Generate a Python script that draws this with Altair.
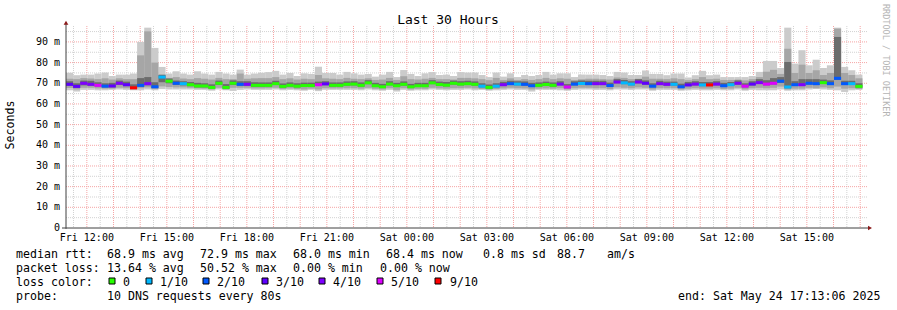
import altair as alt
import pandas as pd

# ---------------- data ----------------
t_start = 11 + 13 / 60 + 6 / 3600      # Fri 11:13:06, hours since Fri 00:00
span_h = 30.0
step_h = 16 / 60                        # 12 x 80 s consolidation

median_ms = [
    69.5, 68.5, 70.0, 69.5, 69.0, 68.6, 68.7, 70.0, 69.3, 67.8, 69.0, 69.8, 68.3, 73.0,
    71.0, 70.0, 69.8, 69.3, 68.7, 68.7, 68.0, 70.0, 68.0, 70.0, 69.5, 69.5, 69.0, 69.0,
    69.0, 69.8, 68.5, 69.0, 68.6, 68.9, 68.9, 69.3, 69.7, 69.0, 69.0, 69.5, 69.6, 69.0,
    70.2, 68.8, 68.3, 69.6, 68.8, 69.5, 68.3, 68.8, 68.8, 70.2, 69.4, 69.1, 70.0, 69.6,
    69.8, 69.5, 68.6, 68.0, 68.6, 69.3, 69.8, 69.6, 69.5, 68.8, 69.0, 69.4, 69.0, 69.6,
    68.2, 69.6, 69.9, 69.8, 69.8, 69.8, 68.9, 70.6, 70.2, 69.6, 70.6, 70.0, 68.6, 69.8,
    69.5, 69.5, 68.3, 69.2, 69.6, 69.2, 69.2, 69.6, 68.8, 69.3, 70.0, 68.6, 69.6, 70.3,
    69.6, 70.0, 71.0, 68.2, 69.3, 69.3, 70.0, 69.8, 70.3, 69.8, 72.4, 69.8, 69.8, 68.5,
]
loss_cnt = [
    3, 3, 4, 4, 5, 2, 3, 4, 3, 9, 2, 4, 2, 1, 0, 2, 1, 0, 0, 0, 0, 0, 0, 0, 2, 4, 0, 0,
    0, 0, 0, 0, 0, 0, 0, 5, 3, 0, 0, 0, 0, 0, 0, 0, 0, 0, 0, 0, 0, 0, 0, 0, 0, 0, 0, 0,
    0, 0, 1, 0, 1, 4, 2, 1, 2, 2, 0, 0, 0, 4, 5, 2, 1, 2, 4, 4, 2, 4, 1, 1, 4, 3, 2, 4,
    4, 1, 2, 3, 4, 1, 9, 4, 2, 1, 4, 5, 3, 4, 5, 5, 2, 1, 2, 4, 2, 2, 0, 2, 2, 2, 1, 0,
]
ping_max = [
    75.1, 73.9, 74.2, 74.2, 74.7, 75.2, 73.5, 74.2, 74.2, 74.7, 90.0, 96.9, 87.1, 77.9,
    74.7, 75.8, 74.7, 74.2, 75.8, 74.7, 74.2, 75.5, 74.7, 74.2, 76.6, 74.2, 74.7, 75.1,
    75.4, 76.0, 74.2, 75.0, 73.5, 74.8, 74.5, 78.0, 75.0, 75.0, 74.2, 75.5, 74.8, 74.2,
    74.5, 73.2, 74.2, 75.5, 73.0, 76.4, 74.5, 73.5, 74.8, 75.4, 74.0, 74.2, 73.5, 75.4,
    75.2, 75.2, 74.0, 73.0, 75.2, 73.2, 74.8, 73.0, 74.0, 73.5, 74.0, 75.5, 74.2, 74.8,
    74.8, 73.0, 74.2, 74.2, 74.2, 74.0, 73.5, 75.5, 75.2, 74.0, 74.0, 76.2, 74.5, 74.5,
    73.9, 74.7, 74.7, 72.8, 73.9, 76.0, 73.9, 74.2, 73.0, 73.0, 73.0, 73.0, 73.5, 75.5,
    80.8, 80.8, 77.4, 96.9, 79.5, 86.0, 78.7, 81.4, 77.4, 78.7, 96.9, 77.9, 76.3, 74.2,
]
band_hi = [
    72.2, 72.0, 72.5, 72.3, 72.0, 72.4, 71.8, 72.4, 72.0, 72.0, 83.5, 95.1, 80.0, 74.4,
    72.6, 73.0, 72.3, 72.0, 72.5, 72.2, 71.8, 72.6, 72.0, 72.0, 74.7, 72.2, 72.4, 72.5,
    72.5, 73.0, 72.0, 72.4, 71.8, 72.2, 72.0, 74.0, 72.4, 72.2, 72.0, 72.6, 72.2, 72.0,
    72.4, 71.6, 71.8, 72.6, 71.6, 73.4, 72.0, 71.8, 72.2, 72.6, 72.0, 72.0, 71.8, 72.6,
    72.6, 72.4, 72.0, 71.5, 72.6, 71.6, 72.4, 71.6, 72.0, 71.6, 72.0, 72.6, 72.0, 72.4,
    72.2, 71.6, 72.0, 72.2, 72.2, 72.0, 71.8, 72.8, 72.6, 72.0, 72.2, 73.2, 72.2, 72.2,
    72.0, 72.4, 72.0, 71.5, 72.0, 73.0, 72.0, 72.2, 71.6, 71.6, 71.8, 71.4, 72.0, 73.0,
    75.6, 76.5, 74.5, 86.7, 75.0, 79.0, 75.0, 76.3, 74.0, 75.0, 96.4, 75.0, 74.0, 72.4,
]
core_hi = [
    71.0, 70.0, 71.3, 71.2, 70.5, 70.0, 70.2, 71.3, 70.8, 69.5, 72.5, 73.0, 70.5, 74.0,
    72.3, 71.3, 71.0, 70.6, 70.2, 70.0, 69.5, 71.3, 69.6, 71.4, 71.0, 71.0, 70.5, 70.4,
    70.4, 71.2, 69.9, 70.4, 70.0, 70.3, 70.3, 70.8, 71.0, 70.4, 70.4, 70.9, 71.0, 70.4,
    71.5, 70.2, 69.7, 71.0, 70.2, 70.9, 69.7, 70.2, 70.2, 71.5, 70.8, 70.6, 71.3, 71.0,
    71.2, 70.9, 70.0, 69.4, 70.0, 70.7, 71.2, 71.0, 70.9, 70.2, 70.4, 70.8, 70.4, 71.0,
    69.6, 71.0, 71.3, 71.2, 71.2, 71.2, 70.3, 72.0, 71.6, 71.0, 72.0, 71.4, 70.0, 71.2,
    70.8, 70.8, 69.8, 70.6, 71.0, 70.6, 70.6, 71.0, 70.2, 70.6, 71.4, 70.0, 71.0, 72.0,
    71.5, 72.5, 73.0, 80.3, 71.0, 72.0, 72.0, 72.0, 71.8, 71.4, 92.4, 71.2, 71.2, 70.0,
]
core_lo = [
    68.8, 67.8, 69.0, 68.8, 68.4, 68.0, 68.0, 69.2, 68.6, 67.4, 68.3, 69.0, 67.7, 70.5,
    70.0, 69.2, 69.0, 68.6, 68.0, 68.0, 67.5, 69.2, 67.4, 69.2, 68.8, 68.8, 68.3, 68.3,
    68.4, 69.2, 67.9, 68.4, 68.0, 68.3, 68.3, 68.7, 69.1, 68.4, 68.4, 68.9, 69.0, 68.4,
    69.6, 68.2, 67.7, 69.0, 68.2, 68.9, 67.7, 68.2, 68.2, 69.6, 68.8, 68.5, 69.4, 69.0,
    69.2, 68.9, 68.0, 67.4, 68.0, 68.7, 69.2, 69.0, 68.9, 68.2, 68.4, 68.8, 68.4, 69.0,
    67.6, 69.0, 69.3, 69.2, 69.2, 69.2, 68.3, 70.0, 69.6, 69.0, 70.0, 69.4, 68.0, 69.2,
    68.9, 68.9, 67.7, 68.6, 69.0, 68.6, 68.6, 69.0, 68.2, 68.7, 69.4, 68.0, 69.0, 69.7,
    69.0, 69.4, 70.2, 67.6, 68.7, 68.7, 69.4, 69.2, 69.7, 69.2, 71.6, 69.2, 69.2, 67.9,
]
band_lo = [
    67.7, 67.0, 67.8, 67.8, 67.5, 67.4, 67.4, 67.8, 67.6, 67.0, 67.6, 68.0, 67.2, 68.5,
    68.2, 68.0, 68.0, 67.8, 67.5, 67.4, 67.0, 67.8, 67.0, 67.8, 67.8, 67.8, 67.5, 67.5,
    67.6, 67.8, 67.2, 67.5, 67.2, 67.0, 67.4, 67.0, 67.6, 67.5, 67.5, 67.6, 67.6, 67.4,
    67.8, 67.3, 67.0, 67.6, 66.8, 67.6, 67.0, 67.3, 67.3, 67.8, 67.5, 67.4, 67.6, 67.6,
    67.8, 67.5, 67.2, 66.9, 67.2, 67.5, 67.8, 67.6, 67.5, 67.0, 67.4, 67.5, 67.4, 67.6,
    67.0, 67.6, 67.8, 67.8, 67.6, 67.6, 67.2, 68.0, 67.8, 67.6, 68.0, 67.8, 67.0, 67.6,
    67.6, 67.6, 67.0, 67.4, 67.6, 67.4, 67.4, 67.6, 67.2, 67.4, 67.8, 67.0, 67.6, 67.8,
    67.6, 67.8, 68.4, 67.0, 67.4, 67.4, 67.8, 67.6, 68.0, 67.6, 68.4, 67.4, 67.6, 67.2,
]
ping_min = [
    66.6, 66.0, 66.8, 66.8, 66.6, 66.6, 66.8, 67.0, 66.8, 66.6, 66.6, 67.0, 66.6, 67.2,
    67.0, 67.0, 67.0, 67.0, 66.8, 66.8, 66.4, 67.0, 66.6, 66.3, 66.8, 67.0, 66.8, 66.8,
    66.8, 67.0, 66.6, 66.8, 66.6, 66.4, 66.8, 66.2, 66.8, 66.8, 66.8, 66.8, 66.8, 66.6,
    67.0, 66.6, 66.4, 66.8, 66.0, 66.8, 66.4, 66.6, 66.6, 67.0, 66.8, 66.6, 66.8, 66.8,
    67.0, 66.6, 66.8, 66.4, 66.6, 66.8, 67.0, 66.8, 66.8, 66.0, 66.8, 66.8, 66.8, 66.6,
    66.4, 66.8, 67.0, 67.0, 66.8, 66.8, 66.6, 67.0, 67.0, 66.8, 67.0, 67.0, 66.4, 66.8,
    66.8, 66.8, 66.4, 66.6, 66.8, 66.6, 66.6, 66.8, 66.6, 66.6, 67.0, 66.4, 66.8, 66.6,
    66.6, 66.6, 67.0, 66.4, 66.6, 66.6, 67.0, 67.2, 67.0, 66.8, 66.6, 65.8, 66.6, 66.8,
]

loss_domain = [0, 1, 2, 3, 4, 5, 9]
loss_labels = ["0", "1/10", "2/10", "3/10", "4/10", "5/10", "9/10"]
loss_colors = ["#26ff00", "#00b8ff", "#0059ff", "#5e00ff", "#7e00ff", "#dd00ff", "#ff0000"]

y_ticks = [0, 10, 20, 30, 40, 50, 60, 70, 80, 90]
y_tick_labels = ["0\u00a0\u00a0", "10 m", "20 m", "30 m", "40 m", "50 m", "60 m", "70 m",
                 "80 m", "90 m"]
y_minor = [5, 15, 25, 35, 45, 55, 65, 75, 85, 95]
x_tick_hours = [12, 15, 18, 21, 24, 27, 30, 33, 36, 39]
x_tick_labels = ["Fri 12:00", "Fri 15:00", "Fri 18:00", "Fri 21:00", "Sat 00:00",
                 "Sat 03:00", "Sat 06:00", "Sat 09:00", "Sat 12:00", "Sat 15:00"]
x_major_grid = list(range(12, 42))
x_minor_grid = [h + 0.5 for h in range(11, 41)]

title_text = "Last 30 Hours"
y_title = "Seconds"
watermark = "RRDTOOL / TOBI OETIKER"
rtt_items = ["median rtt:", "68.9 ms avg", "72.9 ms max", "68.0 ms min", "68.4 ms now",
             "0.8 ms sd", "88.7", "am/s"]
loss_items = ["packet loss:", "13.64 % avg", "50.52 % max", "0.00 % min", "0.00 % now"]
probe_items = ["probe:", "10 DNS requests every 80s"]
end_text = "end: Sat May 24 17:13:06 2025"

# ---------------- layout (pixels) ----------------
PL, PT, W, H = 66, 26, 800, 202
FULL_W, FULL_H = 897, 310
YMAX = 97.7
MONO = "DejaVu Sans Mono"
rtt_x = [16, 107, 200, 293, 386, 483, 557, 607]
loss_x = [16, 107, 200, 293, 380]
probe_x = [16, 107]
box_x = [112, 149, 206, 265, 322, 380, 438]
box_lbl_x = [123, 160, 217, 276, 333, 391, 450]
line_y = [258, 272, 286, 300]

n = len(median_ms)
df = pd.DataFrame({
    "t0": [t_start + i * step_h for i in range(n)],
    "t1": [t_start + (i + 1) * step_h for i in range(n)],
    "pmax": ping_max, "bhi": band_hi, "chi": core_hi, "clo": core_lo,
    "blo": band_lo, "pmin": ping_min, "med": median_ms, "loss": loss_cnt,
})

xscale = alt.Scale(domain=[t_start, t_start + span_h], nice=False, zero=False)
yscale = alt.Scale(domain=[0, YMAX], nice=False, zero=False)


def X(f):
    return alt.X(f, type="quantitative", scale=xscale, axis=None)


def Y(f):
    return alt.Y(f, type="quantitative", scale=yscale, axis=None)


one = pd.DataFrame({"k": [0]})
layers = []

# grid
g_minor_y = alt.Chart(pd.DataFrame({"gy": y_minor})).mark_rule(
    color="#d2d2d2", strokeDash=[1, 1], strokeWidth=1).encode(
    y=Y("gy"), x=alt.value(0), x2=alt.value(W + 2))
g_minor_x = alt.Chart(pd.DataFrame({"gx": x_minor_grid})).mark_rule(
    color="#d2d2d2", strokeDash=[1, 1], strokeWidth=1).encode(
    x=X("gx"), y=alt.value(0), y2=alt.value(H))
g_major_y = alt.Chart(pd.DataFrame({"gy": y_ticks[1:]})).mark_rule(
    color="#f5a5a5", strokeDash=[1, 1], strokeWidth=1).encode(
    y=Y("gy"), x=alt.value(0), x2=alt.value(W + 2))
g_major_x = alt.Chart(pd.DataFrame({"gx": x_major_grid})).mark_rule(
    color="#f5a5a5", strokeDash=[1, 1], strokeWidth=1).encode(
    x=X("gx"), y=alt.value(0), y2=alt.value(H))
layers += [g_minor_y, g_minor_x, g_major_y, g_major_x]

# smoke
base = alt.Chart(df)
layers.append(base.mark_rect(color="#cbcbcb").encode(x=X("t0"), x2="t1", y=Y("pmin"), y2="pmax"))
layers.append(base.mark_rect(color="#a6a6a6").encode(x=X("t0"), x2="t1", y=Y("blo"), y2="bhi"))
layers.append(base.mark_rect(color="#6c6c6c").encode(x=X("t0"), x2="t1", y=Y("clo"), y2="chi"))
# median coloured by loss
layers.append(base.mark_rule(strokeWidth=3).encode(
    x=X("t0"), x2="t1", y=Y("med"),
    color=alt.Color("loss:O", scale=alt.Scale(domain=loss_domain, range=loss_colors), legend=None)))

# axis tick labels
layers.append(alt.Chart(pd.DataFrame({"v": y_ticks, "lab": y_tick_labels})).mark_text(
    font=MONO, fontSize=10, align="right", baseline="middle", color="#000").encode(
    y=Y("v"), x=alt.value(-6), text="lab:N"))
layers.append(alt.Chart(pd.DataFrame({"v": x_tick_hours, "lab": x_tick_labels})).mark_text(
    font=MONO, fontSize=10, align="center", baseline="middle", color="#000").encode(
    x=X("v"), y=alt.value(H + 10), text="lab:N"))

# axes lines and arrows
layers.append(alt.Chart(one).mark_rule(color="#404040", strokeWidth=1).encode(
    x=alt.datum(t_start - 0.15), x2=alt.datum(t_start + span_h + 0.15), y=alt.datum(0)))
layers.append(alt.Chart(one).mark_rule(color="#404040", strokeWidth=1).encode(
    x=alt.datum(t_start), y=alt.datum(-0.4), y2=alt.datum(99.0)))
layers.append(alt.Chart(one).mark_point(shape="triangle-up", filled=True, size=22,
                                        color="#8b1a1a", opacity=1).encode(
    x=alt.datum(t_start), y=alt.datum(99.3)))
layers.append(alt.Chart(one).mark_point(shape="triangle-right", filled=True, size=22,
                                        color="#8b1a1a", opacity=1).encode(
    x=alt.datum(t_start + span_h + 0.15), y=alt.datum(0)))


def txt(s, x, y, size=11.6, align="left", angle=0, color="#000", baseline="alphabetic"):
    kw = dict(font=MONO, fontSize=size, align=align, baseline=baseline, color=color)
    if angle:
        kw["angle"] = angle
    return alt.Chart(one).mark_text(**kw).encode(
        x=alt.value(x - PL), y=alt.value(y - PT), text=alt.value(s))


layers.append(txt(title_text, 448, 24, size=13, align="center"))
layers.append(txt(y_title, 11, 125, align="center", angle=270, baseline="middle"))
layers.append(txt(watermark, 886, 4, size=8.5, angle=90, color="#b4b4b4", baseline="middle"))
for s, x in zip(rtt_items, rtt_x):
    layers.append(txt(s, x, line_y[0]))
for s, x in zip(loss_items, loss_x):
    layers.append(txt(s, x, line_y[1]))
layers.append(txt("loss color:", 16, line_y[2]))
for s, x in zip(loss_labels, box_lbl_x):
    layers.append(txt(s, x, line_y[2]))
for s, x in zip(probe_items, probe_x):
    layers.append(txt(s, x, line_y[3]))
layers.append(txt(end_text, 678, line_y[3]))

# loss colour boxes
for c, x in zip(loss_colors, box_x):
    layers.append(alt.Chart(one).mark_square(size=36, fill=c, stroke="#000", strokeWidth=1,
                                             opacity=1).encode(
        x=alt.value(x - PL), y=alt.value(281 - PT)))

chart = alt.layer(*layers).properties(
    width=W, height=H, background="white",
    padding={"left": PL, "top": PT, "right": FULL_W - PL - W, "bottom": FULL_H - PT - H},
    autosize=alt.AutoSizeParams(type="none"),
).configure_view(stroke=None)

chart.save("out.html", embed_options={"renderer": "svg", "actions": False})
